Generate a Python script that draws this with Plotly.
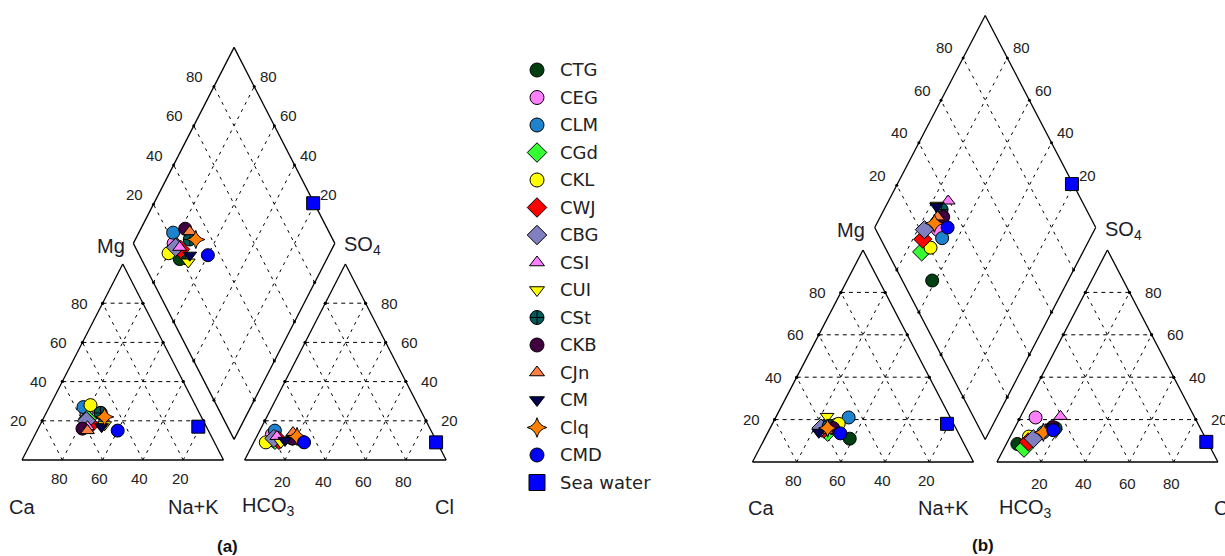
import plotly.graph_objects as go

# ---------------- data ----------------
groups = ["CTG", "CEG", "CLM", "CGd", "CKL", "CWJ", "CBG", "CSI", "CUI", "CSt",
          "CKB", "CJn", "CM", "Clq", "CMD", "Sea water"]
symbols = ["circle", "circle", "circle", "diamond", "circle", "diamond", "diamond",
           "triangle-up", "triangle-down", "circle-cross", "circle", "triangle-up",
           "triangle-down", "star-diamond", "circle", "square"]
colors = ["#003f0f", "#ff80ff", "#1f82cc", "#33ff33", "#ffff00", "#ff0000", "#8080c0",
          "#ff80ff", "#ffff00", "#005a5a", "#40003f", "#ff8040", "#00004f", "#ff8000",
          "#0000ff", "#0000ff"]

# Panel (a) — percent of meq
a_ca   = [49, 56, 56, 57, 52, 57, 58, 59, 50, 49, 62, 60, 52, 48, 45, 4]
a_mg   = [24, 24, 27, 21, 28, 18, 20, 17, 18, 24, 16, 15, 17, 22, 15, 17]
a_nak  = [27, 20, 17, 22, 20, 25, 22, 24, 32, 27, 22, 25, 31, 30, 40, 79]
a_hco3 = [81, 80, 77.5, 80, 85, 78, 80, 78, 77.5, 71, 70.5, 69, 75, 68, 66, 0.5]
a_so4  = [10, 13, 15, 10, 9, 10, 11, 12, 9, 11, 11, 14, 10, 12, 9, 9]
a_cl   = [9, 7, 7.5, 10, 6, 12, 9, 10, 13.5, 18, 18.5, 17, 15, 20, 25, 90.5]

# Panel (b)
b_ca   = [50.5, 53.5, 46, 59, 52, 60, 61, 57, 55.5, 57, 55.5, 59, 63, 58, 53.5, 3]
b_mg   = [11, 17.5, 21, 14, 18, 15.5, 16, 16, 21.5, 17, 16, 15, 14, 16, 13.5, 18]
b_nak  = [38.5, 29, 33, 27, 30, 24.5, 23, 27, 23, 26, 28.5, 26, 23, 26, 33, 79]
b_hco3 = [86.5, 72, 72, 84.5, 79.5, 81, 78, 60.5, 66.5, 65.5, 66.5, 69, 67, 72, 67, 0.5]
b_so4  = [8.5, 21, 14, 6.5, 12, 9.5, 11, 21.5, 14, 16, 16.5, 15, 16.5, 14, 15, 9.5]
b_cl   = [5, 7, 14, 9, 8.5, 9.5, 11, 18, 19.5, 18.5, 17, 16, 16.5, 14, 18, 90]

tick_vals = [20, 40, 60, 80]

FIG_W, FIG_H = 1225, 556
panels = [
    dict(key="", x0=22.0, W=201.5, y0=460.0, H=196.0, g=0.105, xr=[-0.1, 2.3], yr=[-0.45, 2.3],
         data=(a_ca, a_mg, a_nak, a_hco3, a_so4, a_cl), tag="(a)",
         lab=dict(ca=(0.0, -0.238), nak=(0.85, -0.238), hco3=(1.222, -0.238), cl=(2.099, -0.238),
                  mg=(0.44, 1.093), so4=(1.588, 1.093), tag=(1.021, -0.439))),
    dict(key="2", x0=752.5, W=221.0, y0=462.0, H=212.0, g=0.106, xr=[-0.1, 2.138], yr=[-0.4, 2.16],
         data=(b_ca, b_mg, b_nak, b_hco3, b_so4, b_cl), tag="(b)",
         lab=dict(ca=(0.037, -0.217), nak=(0.866, -0.217), hco3=(1.233, -0.217), cl=(2.13, -0.217),
                  mg=(0.447, 1.094), so4=(1.586, 1.094), tag=(1.044, -0.392))),
]

fig = go.Figure()
shapes = []
annots = []
layout_axes = {}

TICKFONT = dict(family="Liberation Sans Narrow, Arial Narrow, Liberation Sans, Arial", size=15, color="#222222")
LABFONT = dict(family="Liberation Sans, Arial", size=20, color="#1c1c2a")


def clamp(v):
    return max(0.0, min(1.0, v))


def msize(sym):
    if sym in ("triangle-up", "triangle-down"):
        return 12
    if sym == "diamond":
        return 14
    return 13


for p in panels:
    k = p["key"]
    xa, ya = "x" + k, "y" + k
    W, H, x0, y0, g = p["W"], p["H"], p["x0"], p["y0"], p["g"]
    xd = [clamp((x0 + p["xr"][0] * W) / FIG_W), clamp((x0 + p["xr"][1] * W) / FIG_W)]
    yd = [clamp(1 - (y0 - p["yr"][0] * H) / FIG_H), clamp(1 - (y0 - p["yr"][1] * H) / FIG_H)]
    ax_common = dict(visible=False, showgrid=False, zeroline=False, fixedrange=True)
    layout_axes["xaxis" + k] = dict(domain=xd, range=p["xr"], anchor=ya, **ax_common)
    layout_axes["yaxis" + k] = dict(domain=yd, range=p["yr"], anchor=xa, **ax_common)

    def line(xs, ys, dash="solid", width=1.3):
        shapes.append(dict(type="line", xref=xa, yref=ya, x0=xs[0], y0=ys[0], x1=xs[1], y1=ys[1],
                           line=dict(color="black", width=width, dash=dash), layer="below"))

    ox2 = 1 + g
    dot_x, dot_y = [], []
    # triangle outlines + grids
    for ox in (0.0, ox2):
        pts = [(ox, 0), (ox + 1, 0), (ox + 0.5, 1), (ox, 0)]
        for i in range(3):
            line((pts[i][0], pts[i + 1][0]), (pts[i][1], pts[i + 1][1]))
        for t in tick_vals:
            f = t / 100
            line((ox + f / 2, ox + 1 - f / 2), (f, f), dash="4px,4px", width=1)
            line((ox + f, ox + f + (1 - f) / 2), (0, 1 - f), dash="3px,5px", width=1)
            line((ox + 1 - f, ox + (1 - f) / 2), (0, 1 - f), dash="3px,5px", width=1)
            dot_x += [ox + f / 2, ox + 1 - f / 2, ox + f + (1 - f) / 2, ox + (1 - f) / 2]
            dot_y += [f, f, 1 - f, 1 - f]
    # diamond
    B = (1 + g / 2, g)
    D = [B, (B[0] + 0.5, B[1] + 1), (B[0], B[1] + 2), (B[0] - 0.5, B[1] + 1), B]
    for i in range(4):
        line((D[i][0], D[i + 1][0]), (D[i][1], D[i + 1][1]))
    for t in tick_vals:
        f = t / 100
        sx, sy = B[0] + 0.5 * f, B[1] + f
        line((sx, sx - 0.5), (sy, sy + 1), dash="3px,5px", width=1)
        cx, cy = B[0] - 0.5 * f, B[1] + f
        line((cx, cx + 0.5), (cy, cy + 1), dash="3px,5px", width=1)
        dot_x += [sx, sx - 0.5, cx, cx + 0.5]
        dot_y += [sy, sy + 1, cy, cy + 1]
    # small tick dots where grid lines meet the outlines
    fig.add_trace(go.Scatter(x=dot_x, y=dot_y, xaxis=xa, yaxis=ya, mode="markers",
                             showlegend=False, hoverinfo="skip", cliponaxis=False,
                             marker=dict(size=3, color="black")))

    # tick labels
    def ann(x, y, text, xanchor="center", xshift=0, yshift=0, font=TICKFONT):
        annots.append(dict(xref=xa, yref=ya, x=x, y=y, text=text, showarrow=False,
                           xanchor=xanchor, yanchor="middle", xshift=xshift, yshift=yshift, font=font))

    L = (B[0] - 0.5, B[1] + 1)
    R = (B[0] + 0.5, B[1] + 1)
    for t in tick_vals:
        f = t / 100
        ann(f / 2, f, str(t), xanchor="right", xshift=-13)                     # Mg
        ann(1 - f, 0, str(t), xshift=-3, yshift=-18)                            # Ca
        ann(ox2 + f, 0, str(t), xshift=-2, yshift=-21)                          # Cl
        ann(ox2 + 1 - f / 2, f, str(t), xanchor="left", xshift=13)              # SO4
        ann(L[0] + 0.5 * f, L[1] + f, str(t), xshift=-19, yshift=10)           # SO4+Cl
        ann(R[0] - 0.5 * f, R[1] + f, str(t), xshift=14, yshift=10)            # Ca+Mg

    lb = p["lab"]
    ann(*lb["ca"], "Ca", font=LABFONT)
    ann(*lb["nak"], "Na+K", font=LABFONT)
    ann(*lb["hco3"], "HCO<sub>3</sub>", font=LABFONT)
    ann(*lb["cl"], "Cl", font=LABFONT)
    ann(*lb["mg"], "Mg", font=LABFONT)
    ann(*lb["so4"], "SO<sub>4</sub>", xanchor="left", font=LABFONT)
    ann(*lb["tag"], "<b>" + p["tag"] + "</b>", font=dict(family="Liberation Sans, Arial", size=17, color="#111111"))

    # data points
    ca, mg, nak, hco3, so4, cl = p["data"]
    for i, name in enumerate(groups):
        tot_c = ca[i] + mg[i] + nak[i]
        tot_a = hco3[i] + so4[i] + cl[i]
        fmg, fna = mg[i] / tot_c, nak[i] / tot_c
        fso4, fcl = so4[i] / tot_a, cl[i] / tot_a
        c = 1 - fna
        s = fso4 + fcl
        xs = [fna + fmg / 2, ox2 + fcl + fso4 / 2, B[0] + 0.5 * (s - c)]
        ys = [fmg, fso4, B[1] + s + c]
        fig.add_trace(go.Scatter(
            x=xs, y=ys, xaxis=xa, yaxis=ya, mode="markers", name=name, showlegend=False,
            cliponaxis=False,
            marker=dict(symbol=symbols[i], size=msize(symbols[i]), color=colors[i],
                        line=dict(color="black", width=1)),
        ))

# ---------------- manual legend ----------------
LEG_X0, LEG_X1 = 515.0, 700.0
ROW0, ROWH = 70.0, 27.5
top_px, bot_px = 45.0, 500.0
layout_axes["xaxis3"] = dict(domain=[LEG_X0 / FIG_W, LEG_X1 / FIG_W], range=[LEG_X0, LEG_X1],
                             anchor="y3", visible=False, fixedrange=True)
layout_axes["yaxis3"] = dict(domain=[1 - bot_px / FIG_H, 1 - top_px / FIG_H],
                             range=[(bot_px - ROW0) / ROWH, (top_px - ROW0) / ROWH],
                             anchor="x3", visible=False, fixedrange=True)
rows = list(range(len(groups)))
for i, name in enumerate(groups):
    size = msize(symbols[i]) + 1
    if name == "Sea water":
        size = 16
    fig.add_trace(go.Scatter(
        x=[537], y=[rows[i]], xaxis="x3", yaxis="y3", mode="markers", showlegend=False,
        cliponaxis=False, hoverinfo="skip",
        marker=dict(symbol=symbols[i], size=size, color=colors[i], line=dict(color="black", width=1))))
    annots.append(dict(xref="x3", yref="y3", x=558, y=rows[i], text=name, showarrow=False,
                       xanchor="left", yanchor="middle",
                       font=dict(family="DejaVu Sans, Verdana", size=18, color="#222222")))

fig.update_layout(
    width=FIG_W, height=FIG_H, margin=dict(l=0, r=0, t=0, b=0),
    paper_bgcolor="white", plot_bgcolor="white", showlegend=False,
    shapes=shapes, annotations=annots, **layout_axes,
)
fig.write_html("out.html")
